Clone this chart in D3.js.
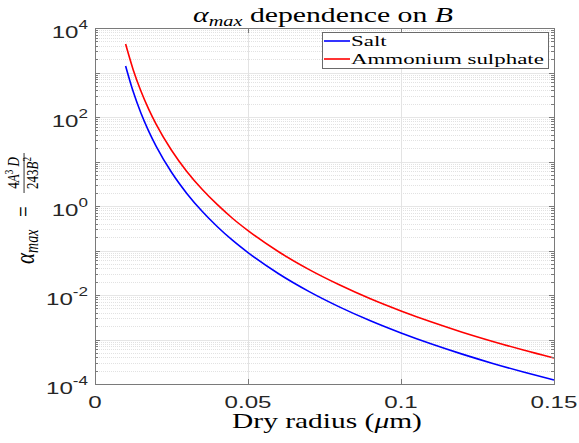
<!DOCTYPE html>
<html>
<head>
<meta charset="utf-8">
<script src="https://cdn.jsdelivr.net/npm/d3@7"></script>
<style>
  body { margin: 0; background: #fff; }
  svg { display: block; }
</style>
</head>
<body>
<script>
// values
var radius = [0.01, 0.0125, 0.015, 0.0175, 0.02, 0.025, 0.03, 0.035, 0.04, 0.045, 0.05,
              0.06, 0.07, 0.08, 0.09, 0.1, 0.11, 0.12, 0.13, 0.14, 0.15];
var salt = [1400, 367, 123, 48.8, 21.9, 5.73, 1.92, 0.762, 0.342, 0.168, 0.0896,
            0.030, 0.0119, 0.00534, 0.00263, 0.0014, 7.9e-4, 4.69e-4, 2.9e-4, 1.86e-4, 1.23e-4];
var ammonium = [4370, 1145, 384, 152, 68.3, 17.9, 5.99, 2.38, 1.07, 0.524, 0.280,
                0.0936, 0.0371, 0.0167, 0.0082, 0.00437, 0.00246, 0.00146, 9.05e-4, 5.8e-4, 3.84e-4];
var seriesNames = ['Salt', 'Ammonium sulphate'];
var seriesColors = ['#0000ff', '#ff0000'];
var xTicks = [0, 0.05, 0.1, 0.15];
var xTickLabels = ['0', '0.05', '0.1', '0.15'];
var yTicks = [1e4, 1e2, 1, 1e-2, 1e-4];
var yTickExp = ['4', '2', '0', '-2', '-4'];

var W = 579, H = 443,
    plot = { left: 95, right: 554, top: 28, bottom: 384 };

var SANS = "'Liberation Sans', Arial, Helvetica, sans-serif",
    SERIF = "'Liberation Serif', 'Times New Roman', 'DejaVu Serif', serif";

var svg = d3.select('body').append('svg')
    .attr('width', W).attr('height', H)

var x = d3.scaleLinear().domain([0, 0.15]).range([plot.left, plot.right])
var y = d3.scaleLog().domain([1e-4, 1e4]).range([plot.bottom, plot.top])

// grid
var minor = [], decades = [];
for (var e = -4; e < 4; e++) {
    decades.push(Math.pow(10, e))
    for (var m = 2; m <= 9; m++) minor.push(m * Math.pow(10, e))
}
var grid = svg.append('g')
grid.selectAll('.ymin').data(minor).enter().append('line')
    .attr('x1', plot.left).attr('x2', plot.right)
    .attr('y1', d => Math.round(y(d)) + 0.5).attr('y2', d => Math.round(y(d)) + 0.5)
    .attr('stroke', '#e2e2e2').attr('stroke-dasharray', '1,1')
grid.selectAll('.ymaj').data(decades.slice(1)).enter().append('line')
    .attr('x1', plot.left).attr('x2', plot.right)
    .attr('y1', d => Math.round(y(d)) + 0.5).attr('y2', d => Math.round(y(d)) + 0.5)
    .attr('stroke', '#e6e6e6')
grid.selectAll('.xmaj').data(xTicks.slice(1, -1)).enter().append('line')
    .attr('y1', plot.top).attr('y2', plot.bottom)
    .attr('x1', d => Math.round(x(d)) + 0.5).attr('x2', d => Math.round(x(d)) + 0.5)
    .attr('stroke', '#e3e3e3')

// curves
var line = d3.line()
    .x(d => x(d[0]))
    .y(d => y(d[1]))
    .curve(d3.curveMonotoneX)

;[salt, ammonium].forEach(function(vals, i) {
    svg.append('path')
        .attr('d', line(radius.map((r, k) => [r, vals[k]])))
        .attr('fill', 'none')
        .attr('stroke', seriesColors[i])
        .attr('stroke-width', 1.6)
})

// axes box and ticks (inward)
var axisCol = '#7a7a7a';
var box = svg.append('g').attr('stroke', axisCol).attr('fill', 'none')
box.append('rect')
    .attr('x', plot.left + 0.5).attr('y', plot.top + 0.5)
    .attr('width', plot.right - plot.left).attr('height', plot.bottom - plot.top)
box.selectAll('.xt').data(xTicks).enter().append('path')
    .attr('d', d => {
        var px = Math.round(x(d)) + 0.5
        return `M${px},${plot.bottom}v-5M${px},${plot.top}v5`
    })
box.selectAll('.ymt').data(minor).enter().append('path')
    .attr('d', d => {
        var py = Math.round(y(d)) + 0.5
        return `M${plot.left},${py}h3M${plot.right},${py}h-3`
    })
box.selectAll('.yt').data(decades.concat([1e4])).enter().append('path')
    .attr('d', d => {
        var py = Math.round(y(d)) + 0.5
        return `M${plot.left},${py}h5M${plot.right},${py}h-5`
    })

// stretch helper: scale text horizontally about an x anchor
function stretchAbout(sel, cx, s) {
    sel.attr('transform', `translate(${cx},0) scale(${s},1) translate(${-cx},0)`)
}
function fitWidth(sel, cx, target) {
    stretchAbout(sel, cx, target / sel.node().getBBox().width)
}

// x tick labels
var xl = svg.selectAll('.xlab').data(xTicks).enter().append('text')
    .style('font-family', SANS)
    .attr('x', d => x(d)).attr('y', 408)
    .attr('text-anchor', 'middle')
    .attr('font-size', 17).attr('fill', '#262626')
    .text((d, i) => xTickLabels[i])
var refW = xl.filter((d, i) => i == 1).node().getBBox().width
var sx = 47 / refW
xl.each(function(d) { stretchAbout(d3.select(this), x(d), sx) })

// y tick labels
svg.selectAll('.ylab').data(yTicks).enter().append('text')
    .style('font-family', SANS)
    .attr('x', 88).attr('y', d => y(d) + 10)
    .attr('text-anchor', 'end')
    .attr('font-size', 17).attr('fill', '#262626')
    .each(function(d, i) {
        var t = d3.select(this)
        t.append('tspan').text('10')
        t.append('tspan').attr('dy', -9).attr('font-size', 12).text(yTickExp[i])
        stretchAbout(t, 88, sx)
    })

// title
var title = svg.append('text')
    .style('font-family', SERIF)
    .attr('x', 323).attr('y', 22)
    .attr('text-anchor', 'middle')
    .attr('font-size', 22).attr('fill', '#000')
title.append('tspan').attr('font-style', 'italic').text('α')
title.append('tspan').attr('font-style', 'italic').attr('font-size', 15).attr('dy', 4).text('max')
title.append('tspan').attr('dy', -4).text(' dependence on ')
title.append('tspan').attr('font-style', 'italic').text('B')
fitWidth(title, 323, 260)

// x label
var xlab = svg.append('text')
    .style('font-family', SERIF)
    .attr('x', 327).attr('y', 428)
    .attr('text-anchor', 'middle')
    .attr('font-size', 20).attr('fill', '#000')
xlab.append('tspan').text('Dry radius (')
xlab.append('tspan').attr('font-style', 'italic').text('μ')
xlab.append('tspan').text('m)')
fitWidth(xlab, 327, 190)

// y label (rotated, with a fraction), stretched across like the rest
var ylOuter = svg.append('g').attr('transform', 'translate(26,0) scale(1.3,1) translate(-26,0)')
var yl = ylOuter.append('g').attr('transform', 'rotate(-90)')
    .style('font-family', SERIF).attr('fill', '#000')
var alpha = yl.append('text').attr('x', -264).attr('y', 32).attr('font-size', 21)
alpha.append('tspan').attr('font-style', 'italic').text('α')
alpha.append('tspan').attr('font-style', 'italic').attr('font-size', 14).attr('dy', 3).text('max')
yl.append('text').attr('x', -217).attr('y', 31).attr('font-size', 19).text('=')
var num = yl.append('text').attr('x', -173).attr('y', 21).attr('font-size', 13).attr('text-anchor', 'middle')
num.append('tspan').text('4')
num.append('tspan').attr('font-style', 'italic').text('A')
num.append('tspan').attr('font-size', 9).attr('dy', -5).text('3')
num.append('tspan').attr('font-style', 'italic').attr('dy', 5).text(' D')
var den = yl.append('text').attr('x', -173).attr('y', 35).attr('font-size', 13).attr('text-anchor', 'middle')
den.append('tspan').text('243')
den.append('tspan').attr('font-style', 'italic').text('B')
den.append('tspan').attr('font-size', 9).attr('dy', -5).text('2')
yl.append('line').attr('x1', -193).attr('x2', -153).attr('y1', 24.5).attr('y2', 24.5)
    .attr('stroke', '#000').attr('stroke-width', 0.7)

// legend
var leg = svg.append('g')
leg.append('rect')
    .attr('x', 322.5).attr('y', 32.5).attr('width', 226).attr('height', 36)
    .attr('fill', '#fff').attr('stroke', '#6a6a6a')
var legTexts = []
seriesNames.forEach(function(name, i) {
    var ly = 41 + i * 18
    leg.append('line')
        .attr('x1', 324).attr('x2', 350).attr('y1', ly).attr('y2', ly)
        .attr('stroke', seriesColors[i]).attr('stroke-width', 1.6)
    legTexts.push(leg.append('text')
        .style('font-family', SERIF)
        .attr('x', 351).attr('y', ly + 5)
        .attr('font-size', 14.5).attr('fill', '#000')
        .text(name))
})
var ls = 193 / legTexts[1].node().getBBox().width
legTexts.forEach(t => stretchAbout(t, 351, ls))
</script>
</body>
</html>
